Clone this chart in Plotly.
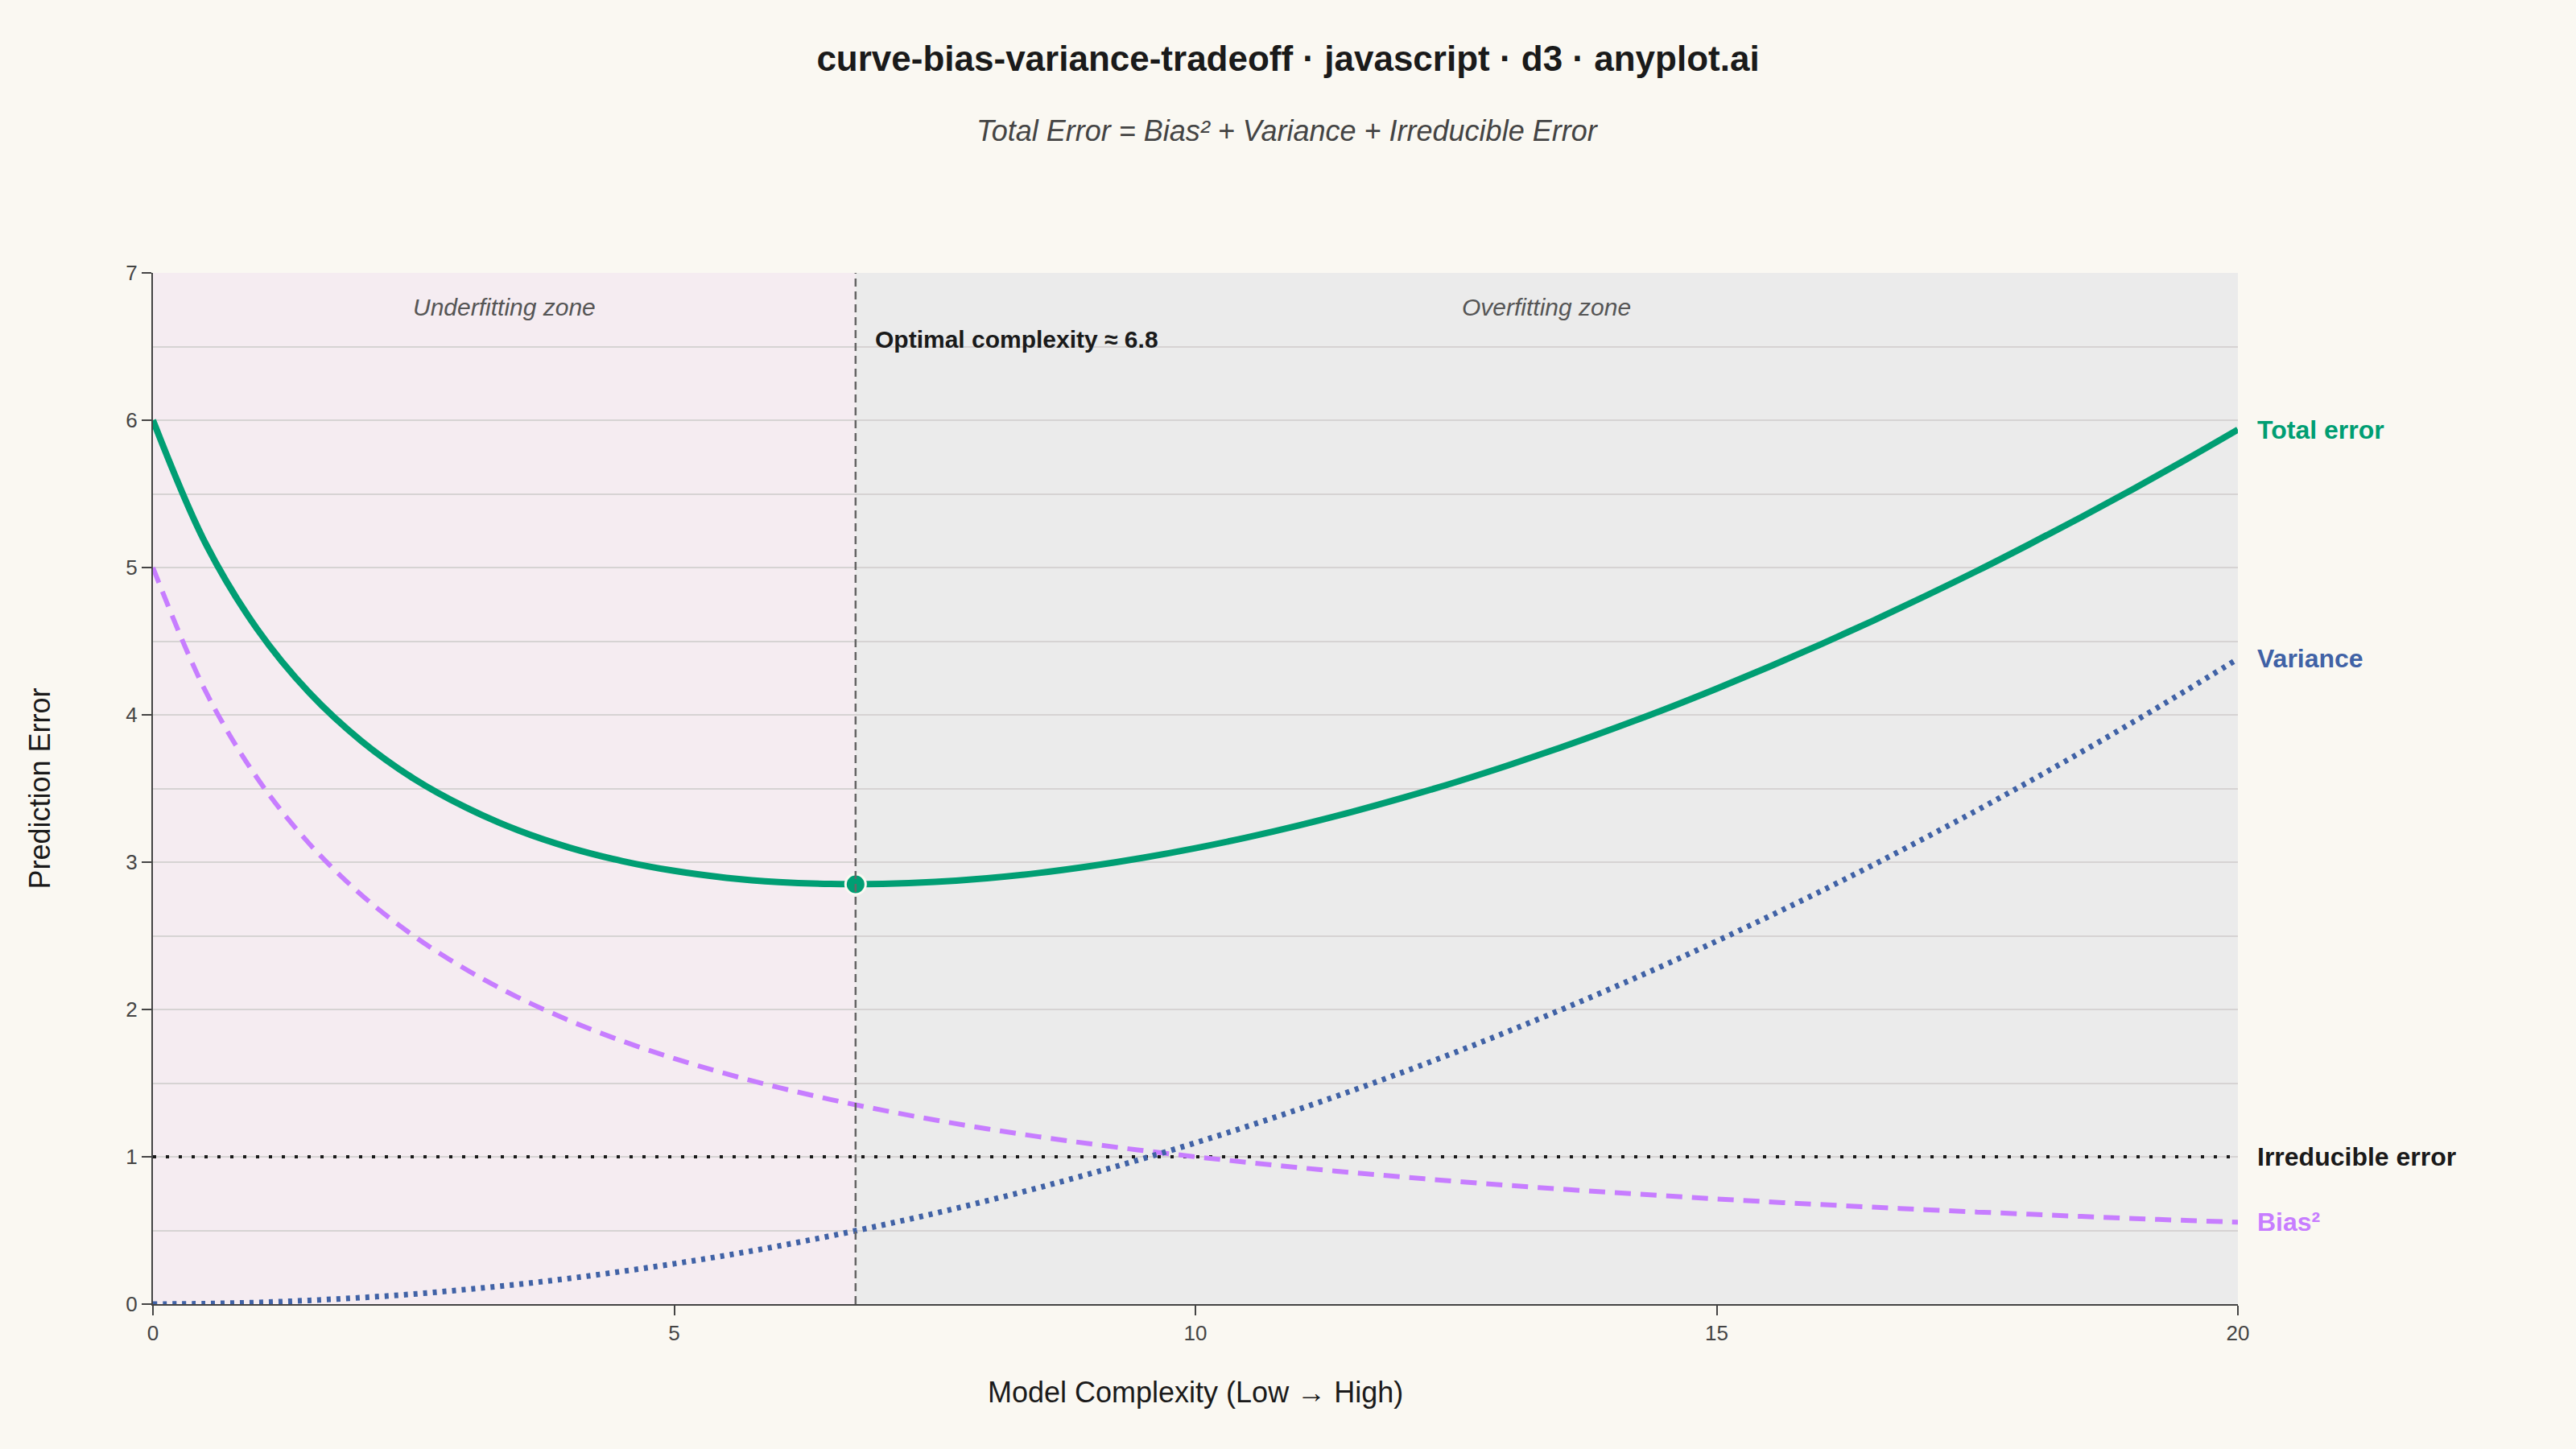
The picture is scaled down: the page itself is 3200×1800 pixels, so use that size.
import plotly.graph_objects as go

# model complexity samples and error components
complexity = [0, 0.5, 1, 1.5, 2, 2.5, 3, 3.5, 4, 4.5, 5, 5.5, 6, 6.5, 7, 7.5, 8, 8.5, 9, 9.5,
              10, 10.5, 11, 11.5, 12, 12.5, 13, 13.5, 14, 14.5, 15, 15.5, 16, 16.5, 17,
              17.5, 18, 18.5, 19, 19.5, 20]
bias_sq = [5.000, 4.167, 3.571, 3.125, 2.778, 2.500, 2.273, 2.083, 1.923, 1.786, 1.667,
           1.563, 1.471, 1.389, 1.316, 1.250, 1.190, 1.136, 1.087, 1.042, 1.000, 0.962,
           0.926, 0.893, 0.862, 0.833, 0.806, 0.781, 0.758, 0.735, 0.714, 0.694, 0.676,
           0.658, 0.641, 0.625, 0.610, 0.595, 0.581, 0.568, 0.556]
variance = [0.000, 0.003, 0.011, 0.025, 0.044, 0.068, 0.099, 0.134, 0.175, 0.222, 0.274,
            0.331, 0.394, 0.463, 0.537, 0.616, 0.701, 0.791, 0.887, 0.988, 1.095, 1.207,
            1.325, 1.448, 1.577, 1.711, 1.851, 1.996, 2.146, 2.302, 2.464, 2.631, 2.803,
            2.981, 3.165, 3.353, 3.548, 3.748, 3.953, 4.164, 4.380]
irreducible = [1.00] * len(complexity)
total_error = [6.000, 5.170, 4.582, 4.150, 3.822, 3.568, 3.372, 3.217, 3.098, 3.008, 2.941,
               2.894, 2.865, 2.852, 2.853, 2.866, 2.891, 2.927, 2.974, 3.030, 3.095, 3.169,
               3.251, 3.341, 3.439, 3.544, 3.657, 3.777, 3.904, 4.037, 4.178, 4.325, 4.479,
               4.639, 4.806, 4.978, 5.158, 5.343, 5.534, 5.732, 5.936]

optimal_x = 6.74
optimal_total = 2.85
x_min, x_max = 0, 20
y_min, y_max = 0, 7

BG = "#FAF8F2"
FONT = "Liberation Sans, Arial, sans-serif"
GREEN = "#009E73"
PURPLE = "#C77DFF"
BLUE = "#4062A6"
INK = "#1A1A1A"

fig = go.Figure()

fig.add_trace(go.Scatter(x=complexity, y=irreducible, mode="lines",
                         line=dict(color=INK, width=4, dash="4px,12px")))
fig.add_trace(go.Scatter(x=complexity, y=bias_sq, mode="lines", line_shape="spline",
                         line=dict(color=PURPLE, width=6, dash="20px,12px")))
fig.add_trace(go.Scatter(x=complexity, y=variance, mode="lines", line_shape="spline",
                         line=dict(color=BLUE, width=7, dash="5px,7px")))
fig.add_trace(go.Scatter(x=complexity, y=total_error, mode="lines", line_shape="spline",
                         line=dict(color=GREEN, width=8)))
fig.add_trace(go.Scatter(x=[optimal_x], y=[optimal_total], mode="markers",
                         marker=dict(color=GREEN, size=25, line=dict(color=BG, width=3))))

# zone shading and optimum line
fig.add_shape(type="rect", x0=x_min, x1=optimal_x, y0=y_min, y1=y_max,
              fillcolor="#F5ECF1", line_width=0, layer="below")
fig.add_shape(type="rect", x0=optimal_x, x1=x_max, y0=y_min, y1=y_max,
              fillcolor="#EBEBEB", line_width=0, layer="below")
fig.add_shape(type="line", x0=optimal_x, x1=optimal_x, y0=y_min, y1=y_max,
              line=dict(color="#666666", width=2.5, dash="10px,6px"))

# zone labels
fig.add_annotation(x=(x_min + optimal_x) / 2, y=6.77, text="<i>Underfitting zone</i>",
                   showarrow=False, font=dict(family=FONT, size=30, color="#555555"))
fig.add_annotation(x=(optimal_x + x_max) / 2, y=6.77, text="<i>Overfitting zone</i>",
                   showarrow=False, font=dict(family=FONT, size=30, color="#555555"))
fig.add_annotation(x=optimal_x, y=6.55, text="<b>Optimal complexity ≈ 6.8</b>",
                   showarrow=False, xanchor="left", xshift=22,
                   font=dict(family=FONT, size=30, color=INK))

# end labels
end_labels = [("Total error", total_error[-1], GREEN),
              ("Variance", variance[-1], BLUE),
              ("Irreducible error", irreducible[-1], INK),
              ("Bias²", bias_sq[-1], PURPLE)]
for name, yv, col in end_labels:
    fig.add_annotation(x=x_max, y=yv, text="<b>" + name + "</b>", showarrow=False,
                       xanchor="left", xshift=22,
                       font=dict(family=FONT, size=32, color=col))

# subtitle and axis titles
fig.add_annotation(xref="paper", yref="paper", x=0.5444, y=1.1374,
                   xanchor="center", yanchor="middle",
                   text="<i>Total Error = Bias² + Variance + Irreducible Error</i>",
                   showarrow=False, font=dict(family=FONT, size=36, color="#444444"))
fig.add_annotation(xref="paper", yref="paper", x=0.5, y=-0.0851,
                   xanchor="center", yanchor="middle",
                   text="Model Complexity (Low → High)", showarrow=False,
                   font=dict(family=FONT, size=36, color=INK))
fig.add_annotation(xref="paper", yref="paper", x=-0.0544, y=0.5, textangle=-90,
                   xanchor="center", yanchor="middle",
                   text="Prediction Error", showarrow=False,
                   font=dict(family=FONT, size=36, color=INK))

fig.update_layout(
    width=3200,
    height=1800,
    margin=dict(l=190, r=420, t=339, b=180),
    paper_bgcolor=BG,
    plot_bgcolor=BG,
    showlegend=False,
    hovermode=False,
    title=dict(text="<b>curve-bias-variance-tradeoff · javascript · d3 · anyplot.ai</b>",
               x=0.5, xanchor="center", y=1 - 73 / 1800, yanchor="middle",
               font=dict(family=FONT, size=44, color=INK)),
    xaxis=dict(range=[x_min, x_max], tickvals=[0, 5, 10, 15, 20], showgrid=False,
               zeroline=False, showline=True, linecolor="#444444", linewidth=2,
               ticks="outside", ticklen=12, tickwidth=2, tickcolor="#444444",
               tickfont=dict(family=FONT, size=26, color="#444444")),
    yaxis=dict(range=[y_min, y_max], dtick=1, showgrid=True, gridcolor="#D6D3D3",
               gridwidth=2, zeroline=False, showline=True, linecolor="#444444",
               linewidth=2, ticks="outside", ticklen=12, tickwidth=2,
               tickcolor="#444444", tickfont=dict(family=FONT, size=26, color="#444444"),
               minor=dict(dtick=0.5, showgrid=True, gridcolor="#D6D3D3", gridwidth=2)),
)

fig.write_html("out.html", config={"displayModeBar": False},
               post_script="document.body.style.margin='0';"
                           "document.body.style.background='#FAF8F2';")
